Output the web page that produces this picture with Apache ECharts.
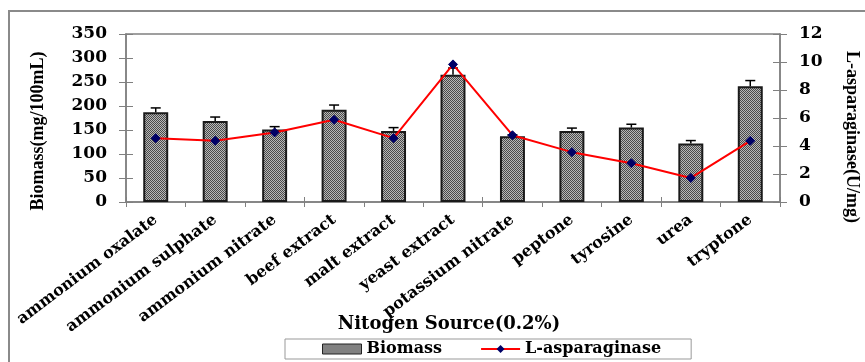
<!DOCTYPE html>
<html>
<head>
<meta charset="utf-8">
<script src="https://cdn.jsdelivr.net/npm/echarts@6/dist/echarts.min.js"></script>
<style>
  html, body { margin: 0; padding: 0; background: #fff; }
  #chart { width: 865px; height: 362px; }
</style>
</head>
<body>
<div id="chart"></div>
<script>
// Nitrogen sources tested at 0.2%
const categories = ['ammonium oxalate', 'ammonium sulphate', 'ammonium nitrate', 'beef extract',
  'malt extract', 'yeast extract', 'potassium nitrate', 'peptone', 'tyrosine', 'urea', 'tryptone'];
// Biomass (mg/100mL) and its upper error
const biomass = [187, 169, 151, 192, 148, 265, 137, 148, 155, 122, 241];
const biomassErr = [9, 8, 6, 10, 7, 14, 3, 6, 7, 6, 12];
// L-asparaginase activity (U/mg)
const asparaginase = [4.56, 4.37, 4.97, 5.87, 4.56, 9.83, 4.77, 3.56, 2.77, 1.72, 4.37];
// Axis ranges
const biomassTicks = { min: 0, max: 350, interval: 50 };
const activityTicks = { min: 0, max: 12, interval: 2 };

const FONT = 'DejaVu Serif';
const TITLE_FONT = 'Liberation Serif';
const AXIS_GRAY = '#808080';

// fine checkered fill for the bars
function checkerPattern() {
  const c = document.createElement('canvas');
  c.width = 2; c.height = 2;
  const g = c.getContext('2d');
  g.fillStyle = '#b8b8b8'; g.fillRect(0, 0, 2, 2);
  g.fillStyle = '#4a4a4a'; g.fillRect(0, 0, 1, 1); g.fillRect(1, 1, 1, 1);
  return c;
}
const barFill = { image: checkerPattern(), repeat: 'repeat' };

const chart = echarts.init(document.getElementById('chart'), null, { renderer: 'canvas' });

const tickLabel = { color: '#000', fontFamily: FONT, fontWeight: 'bold', fontSize: 17 };

chart.setOption({
  animation: false,
  backgroundColor: '#fff',
  grid: { left: 126, right: 85, top: 34, bottom: 160, show: true, borderColor: AXIS_GRAY, borderWidth: 1.5, backgroundColor: 'transparent' },
  legend: {
    left: 285, top: 339,
    borderColor: '#999', borderWidth: 1, borderRadius: 0,
    padding: [2, 30, 2, 37],
    itemWidth: 39, itemHeight: 10, itemGap: 38,
    textStyle: { color: '#000', fontFamily: FONT, fontWeight: 'bold', fontSize: 16 },
    data: [
      { name: 'Biomass', icon: 'rect', itemStyle: { color: barFill, borderColor: '#222', borderWidth: 1 } },
      { name: 'L-asparaginase' }
    ]
  },
  xAxis: [
    {
      type: 'category', data: categories, position: 'bottom',
      axisLine: { lineStyle: { color: AXIS_GRAY, width: 1.5 } },
      axisTick: { show: true, length: 5, lineStyle: { color: AXIS_GRAY } },
      axisLabel: { ...tickLabel, fontSize: 16, rotate: 37, margin: 16, interval: 0 }
    },
    {
      type: 'category', data: categories, position: 'bottom',
      axisLine: { show: false },
      axisTick: { show: true, inside: true, length: 5, lineStyle: { color: AXIS_GRAY } },
      axisLabel: { show: false }
    }
  ],
  yAxis: [
    {
      type: 'value', position: 'left', ...biomassTicks,
      splitLine: { show: false },
      axisLine: { show: true, lineStyle: { color: AXIS_GRAY, width: 1.5 } },
      axisTick: { show: true, length: 7, lineStyle: { color: AXIS_GRAY } },
      axisLabel: { ...tickLabel, margin: 19 }
    },
    {
      type: 'value', position: 'right', ...activityTicks,
      splitLine: { show: false },
      axisLine: { show: true, lineStyle: { color: AXIS_GRAY, width: 1.5 } },
      axisTick: { show: true, length: 7, lineStyle: { color: AXIS_GRAY } },
      axisLabel: { ...tickLabel, margin: 19 }
    },
    {
      type: 'value', position: 'left', ...biomassTicks,
      splitLine: { show: false }, axisLine: { show: false },
      axisTick: { show: true, inside: true, length: 7, lineStyle: { color: AXIS_GRAY } },
      axisLabel: { show: false }
    },
    {
      type: 'value', position: 'right', ...activityTicks,
      splitLine: { show: false }, axisLine: { show: false },
      axisTick: { show: true, inside: true, length: 7, lineStyle: { color: AXIS_GRAY } },
      axisLabel: { show: false }
    }
  ],
  graphic: [
    // outer frame
    { type: 'polyline', silent: true, shape: { points: [[9, 400], [9, 11], [900, 11]] },
      style: { stroke: '#8a8a8a', lineWidth: 2, fill: null } },
    { type: 'text', silent: true, x: 38, y: 131, rotation: Math.PI / 2,
      style: { text: 'Biomass(mg/100mL)', fill: '#000', font: 'bold 18px "' + TITLE_FONT + '"', align: 'center', verticalAlign: 'middle' } },
    { type: 'text', silent: true, x: 852, y: 137, rotation: -Math.PI / 2,
      style: { text: 'L-asparaginase(U/mg)', fill: '#000', font: 'bold 18px "' + TITLE_FONT + '"', align: 'center', verticalAlign: 'middle' } },
    { type: 'text', silent: true, x: 449, y: 324,
      style: { text: 'Nitogen Source(0.2%)', fill: '#000', font: 'bold 18px "' + FONT + '"', align: 'center', verticalAlign: 'middle' } }
  ],
  series: [
    {
      name: 'Biomass', type: 'bar', xAxisIndex: 0, yAxisIndex: 0,
      data: biomass, barWidth: '42%',
      itemStyle: { color: barFill, borderColor: '#1a1a1a', borderWidth: 2 },
      z: 2
    },
    {
      name: 'Biomass error', type: 'custom', xAxisIndex: 0, yAxisIndex: 0,
      data: biomass.map((v, i) => [i, v, v + biomassErr[i]]),
      renderItem: function (params, api) {
        const base = api.coord([api.value(0), api.value(1)]);
        const top = api.coord([api.value(0), api.value(2)]);
        const half = 5;
        const st = { stroke: '#000', lineWidth: 1.5 };
        return {
          type: 'group',
          children: [
            { type: 'line', shape: { x1: base[0], y1: base[1], x2: top[0], y2: top[1] }, style: st },
            { type: 'line', shape: { x1: top[0] - half, y1: top[1], x2: top[0] + half, y2: top[1] }, style: st }
          ]
        };
      },
      z: 3, silent: true
    },
    {
      name: 'L-asparaginase', type: 'line', xAxisIndex: 0, yAxisIndex: 1,
      data: asparaginase,
      symbol: 'diamond', symbolSize: 9,
      itemStyle: { color: '#000066', borderColor: '#000066' },
      lineStyle: { color: '#ff0000', width: 2 },
      z: 4
    }
  ]
});
</script>
</body>
</html>
